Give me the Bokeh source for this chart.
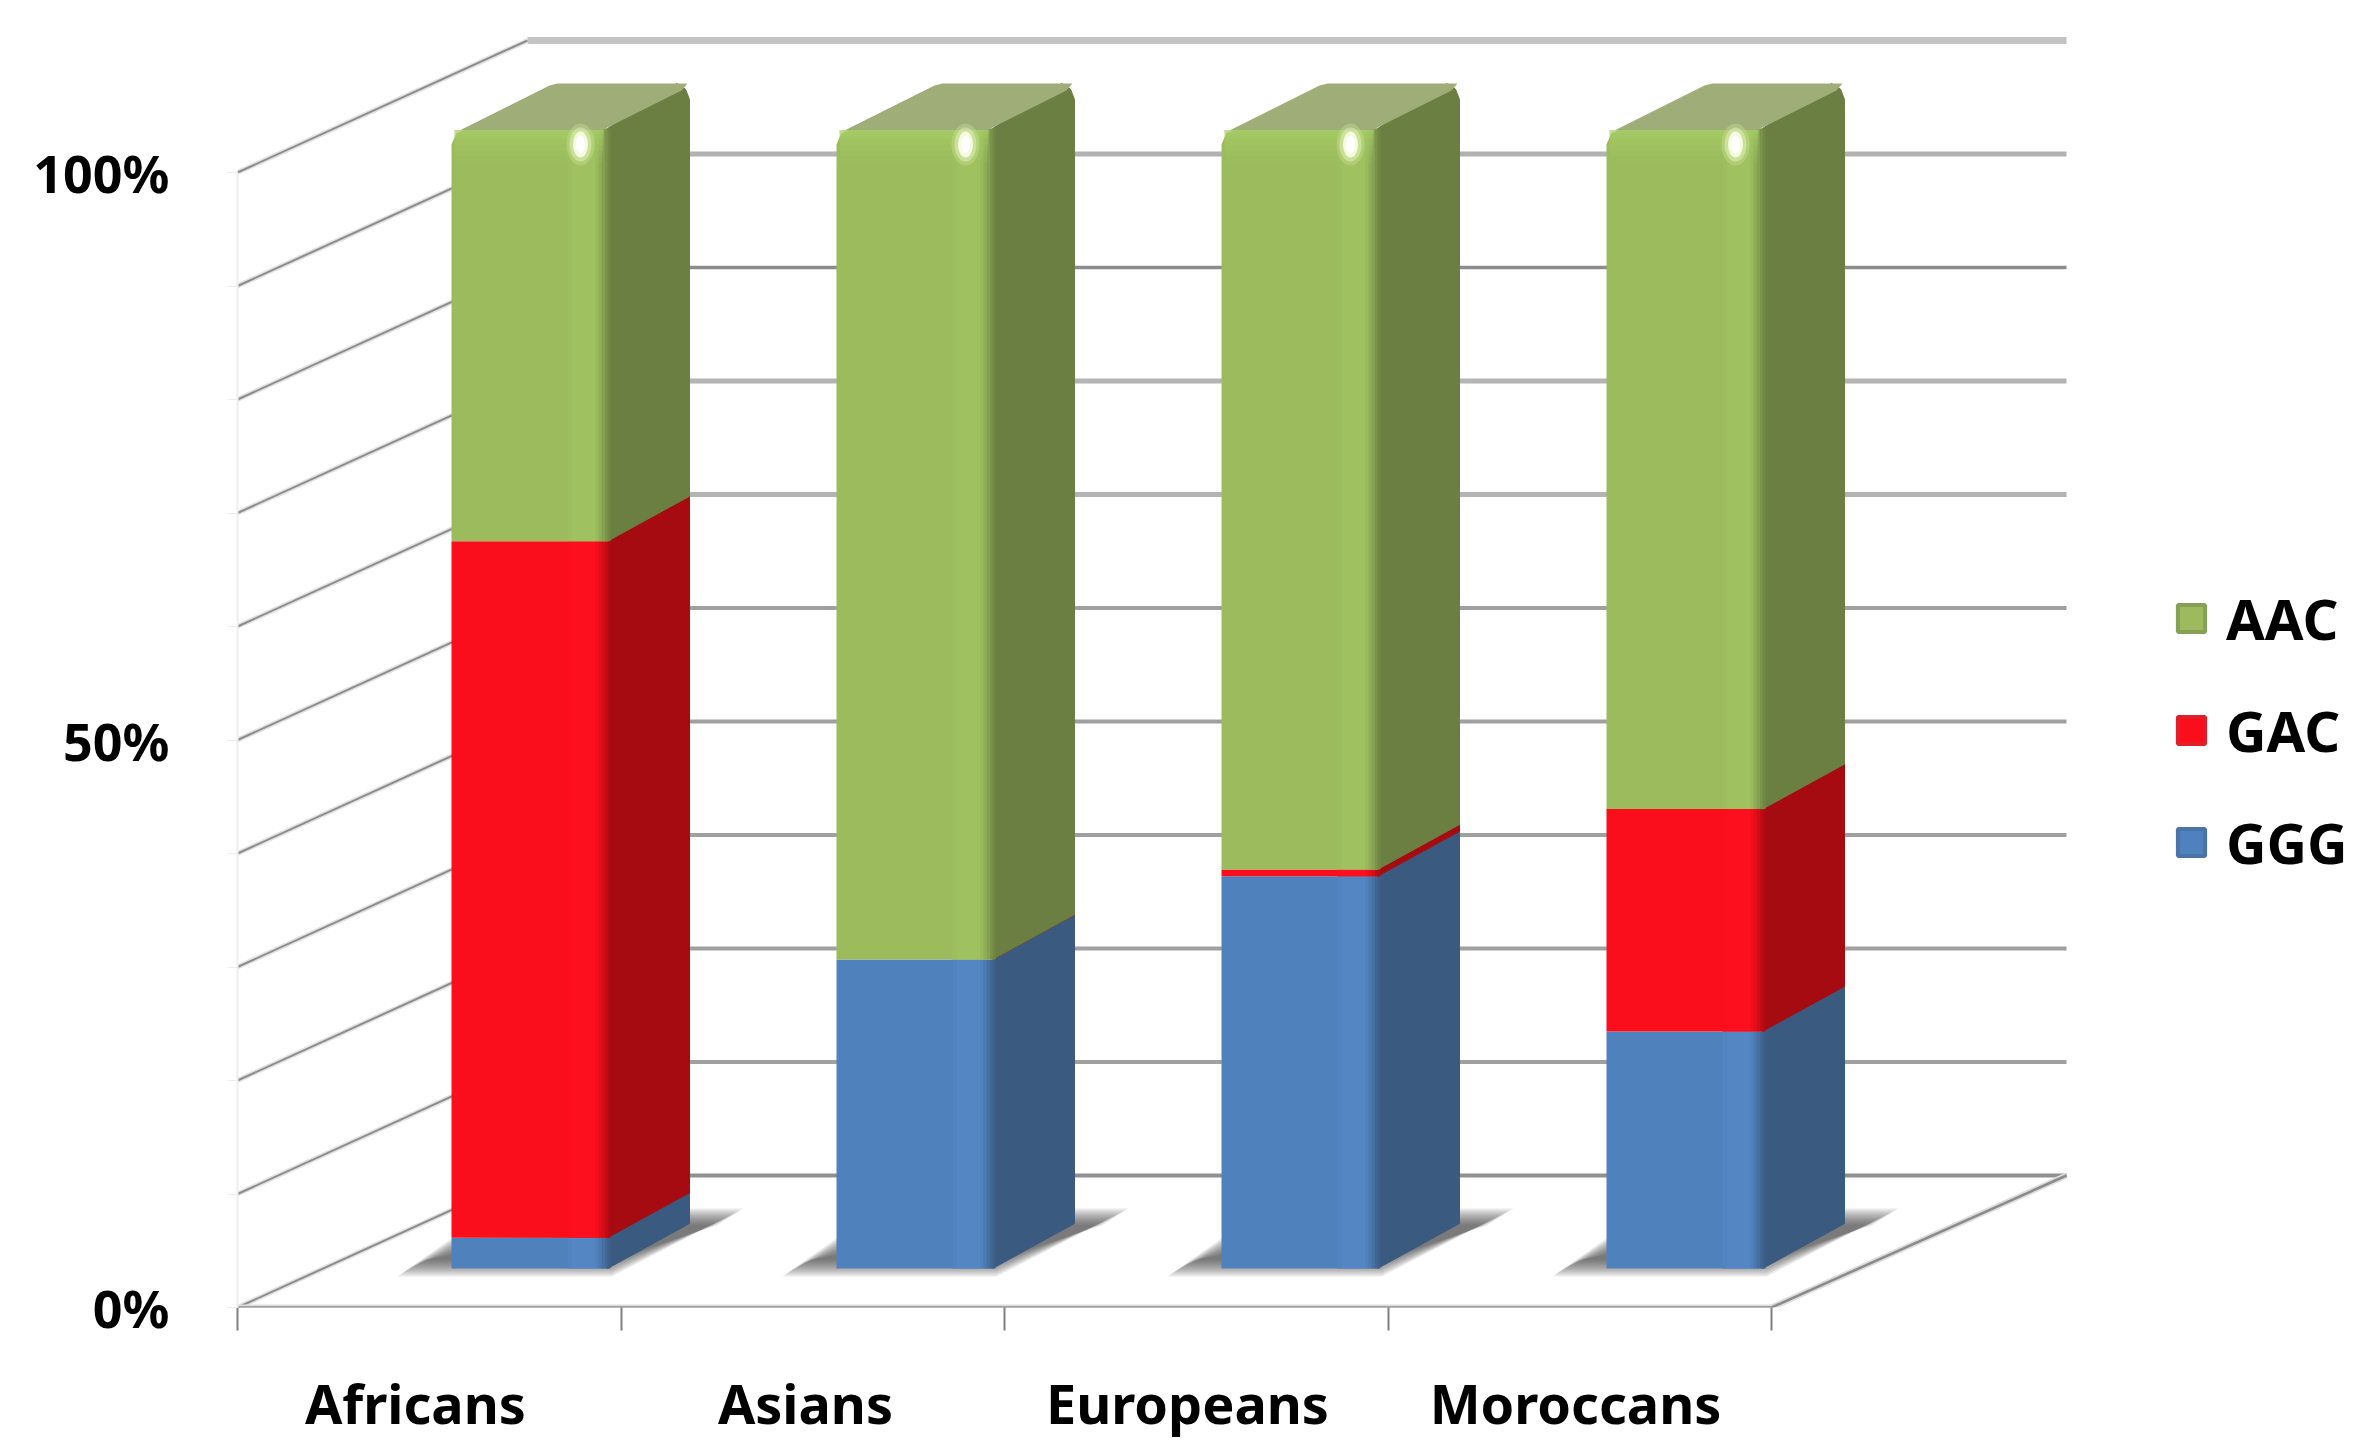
from bokeh.plotting import figure
from bokeh.embed import file_html
from bokeh.resources import INLINE
from bokeh.models import Range1d, LinearAxis, FixedTicker, Legend, LegendItem, ColumnDataSource

CATEGORIES = ["Africans", "Asians", "Europeans", "Moroccans"]
SERIES = ["GGG", "GAC", "AAC"]
GGG = [2.7, 27.1, 34.4, 20.8]
GAC = [61.1, 0.0, 0.6, 19.5]
AAC = [36.2, 72.9, 65.0, 59.7]
Y_TICKS = [0, 50, 100]
Y_LABELS = ["0%", "50%", "100%"]
WALL_STEPS = [0, 10, 20, 30, 40, 50, 60, 70, 80, 90, 100]

FRONT = {"GGG": "#4f81bd", "GAC": "#fb0e1c", "AAC": "#9bbb5c"}
LIGHT = {"GGG": "#5386c2", "GAC": "#fd0f1e", "AAC": "#9fc15f"}
SIDE = {"GGG": "#3a5a80", "GAC": "#a50b10", "AAC": "#6a7f41"}
SWATCH_EDGE = {"GGG": "#4a74a6", "GAC": "#e01f28", "AAC": "#86a055"}
CAP = "#9fae78"
FONT = "Noto Sans"
FS = "54px"
FS_Y = "52px"
FS_LEG = "56px"


def mix(c1, c2, f):
    a = [int(c1[i:i + 2], 16) for i in (1, 3, 5)]
    b = [int(c2[i:i + 2], 16) for i in (1, 3, 5)]
    return "#%02x%02x%02x" % tuple(round(x + (y - x) * f) for x, y in zip(a, b))


PX = 1 / 383.5        # x units per pixel
W_PX = 1 / 11.35      # wall value per pixel
B_PX = 1 / 11.4       # bar value per pixel
FRAME_L, FRAME_B = 237, 1307
W, H = 2350, 1442

p = figure(width=W, height=H, output_backend="svg", toolbar_location=None,
           x_range=Range1d(0, (W - FRAME_L) * PX),
           y_range=Range1d(0, FRAME_B * W_PX),
           min_border_left=FRAME_L, min_border_right=0, min_border_top=0,
           min_border_bottom=H - FRAME_B, x_axis_type=None, y_axis_type=None)
p.xgrid.visible = False
p.ygrid.visible = False
p.outline_line_color = None
p.extra_y_ranges = {"bars": Range1d(-39 * B_PX, 1268 * B_PX)}

# --- walls and floor
WD_X, WD_Y = 290 * PX, 132 * W_PX
WALL_R = (2066 - FRAME_L) * PX
N = len(CATEGORIES)
GRID_STYLE = {100: ("#c4c4c4", 7), 90: ("#b2b2b2", 5), 80: ("#8c8c8c", 3.5), 70: ("#b4b4b4", 5),
              60: ("#b4b4b4", 5), 50: ("#a0a0a0", 4), 40: ("#a0a0a0", 4), 30: ("#a0a0a0", 4),
              20: ("#a0a0a0", 4), 10: ("#a0a0a0", 4), 0: ("#909090", 4)}
for k in WALL_STEPS:
    col, wd = GRID_STYLE[k]
    p.line([WD_X, WALL_R], [k + WD_Y, k + WD_Y], line_color=col, line_width=wd)
    p.line([0, WD_X], [k, k + WD_Y], line_color="#e2e2e2", line_width=5)
    p.line([0, WD_X], [k, k + WD_Y], line_color="#8c8c8c", line_width=2)
for wid, col in ((6, "#dddddd"), (2.5, "#8a8a8a")):
    p.line([N, WALL_R], [0, WD_Y], line_color=col, line_width=wid)
    p.line([0, N], [0, 0], line_color=col, line_width=wid)

# --- bars
BAR_W = 156 * PX
D_X, D_Y = 82 * PX, 45 * B_PX
R_X, R_Y = 16 * PX, 16 * B_PX
lefts = [(214 + i * 385) * PX for i in range(N)]
stack = {"GGG": GGG, "GAC": GAC, "AAC": AAC}

for layer in [16, 14, 12, 10, 8, 6, 4, 2, 0]:
    xs, ys = [], []
    for x0 in lefts:
        s = layer
        xs.append([x0 - (54 - 1.5 * s) * PX, x0 + BAR_W + 4 * PX, x0 + BAR_W + D_X + (54 - 1.5 * s) * PX, x0 + BAR_W + D_X, x0])
        ys.append([(-8 + s) * B_PX, (-8 + s) * B_PX, (60 - s) * B_PX, (60 - s) * B_PX, (30 - s) * B_PX])
    p.patches(xs, ys, y_range_name="bars", fill_color="#383838", fill_alpha=0.11, line_color=None)

# renderers that give the legend its rimmed swatches; they sit wholly behind the bars
swatches = {}
for n in SERIES:
    mid = [x + BAR_W / 2 for x in lefts]
    low = [20.0] * N
    swatches[n] = p.patches([[m, m + 4 * PX, m] for m in mid], [[v, v, v + 4 * B_PX] for v in low],
                            y_range_name="bars", fill_color=FRONT[n], line_color=SWATCH_EDGE[n], line_width=4)

bottoms = [0.0] * N
for name in SERIES:
    vals = stack[name]
    fx, fy, sx, sy = [], [], [], []
    band_l, band_r, band_b, band_t, band_c = [], [], [], [], []
    for i, x0 in enumerate(lefts):
        b, t = bottoms[i], bottoms[i] + vals[i]
        xr = x0 + BAR_W
        if name == "AAC":
            fx.append([x0, xr, xr, x0 + R_X, x0 + R_X * .3, x0])
            fy.append([b, b, t, t, t - R_Y * .3, t - R_Y])
            sx.append([xr, xr + D_X, xr + D_X, xr + D_X - R_X * .25, xr + D_X - R_X * .8, xr])
            sy.append([b, b + D_Y, t + D_Y - R_Y, t + D_Y - R_Y * .35, t + D_Y, t])
        else:
            fx.append([x0, xr, xr, x0])
            fy.append([b, b, t, t])
            sx.append([xr, xr + D_X, xr + D_X, xr])
            sy.append([b, b + D_Y, t + D_Y, t])
        grad = [(-40, -36, 0.5), (-36, -12, 1.0)]
        for a, e, f in grad:
            band_l.append(xr + a * PX)
            band_r.append(xr + e * PX)
            band_b.append(b)
            band_t.append(t)
            band_c.append(mix(FRONT[name], LIGHT[name], f))
        for j, f in enumerate([0.12, 0.3, 0.5, 0.7, 0.88]):
            band_l.append(xr + (-12 + j * 3) * PX)
            band_r.append(xr + (-9 + j * 3) * PX)
            band_b.append(b)
            band_t.append(t)
            band_c.append(mix(LIGHT[name], SIDE[name], f))
    bottoms = [bottoms[i] + vals[i] for i in range(N)]
    p.patches(sx, sy, y_range_name="bars", fill_color=SIDE[name], line_color=SIDE[name], line_width=1)
    p.patches(fx, fy, y_range_name="bars", fill_color=FRONT[name], line_color=None)
    band_src = ColumnDataSource(dict(left=band_l, right=band_r, bottom=band_b, top=band_t, color=band_c))
    p.quad(left="left", right="right", bottom="bottom", top="top", source=band_src, y_range_name="bars",
           fill_color="color", line_color=None)

# caps, top sheen and highlight
tops = bottoms
cx, cy = [], []
for i, x0 in enumerate(lefts):
    xr, t = x0 + BAR_W, tops[i]
    cx.append([x0 + 8 * PX, xr - 6 * PX, xr + D_X - 8 * PX, xr + D_X - 2 * PX, x0 + D_X + 24 * PX, x0 + D_X + 16 * PX])
    cy.append([t - 2 * B_PX, t - 2 * B_PX, t + D_Y - 7 * B_PX, t + D_Y, t + D_Y, t + D_Y - 2 * B_PX])
p.patches(cx, cy, y_range_name="bars", fill_color=CAP, line_color=None)
for depth, alpha in ((34, 0.1), (28, 0.12), (22, 0.15), (16, 0.2), (10, 0.25), (5, 0.3)):
    p.quad(left=[x + 3 * PX for x in lefts], right=[x + BAR_W - 4 * PX for x in lefts],
           bottom=[t - depth * B_PX for t in tops], top=[t - 1.5 * B_PX for t in tops], y_range_name="bars",
           fill_color="#aad06a", fill_alpha=alpha, line_color=None)
for w_, h_, col, alpha in ((28, 42, "#cfe59a", 0.35), (22, 34, "#e6f2bf", 0.5), (15, 26, "#fbfde9", 0.9), (9, 18, "#ffffff", 1.0)):
    p.ellipse(x=[x + BAR_W - 27 * PX for x in lefts], y=[t - 16 * B_PX for t in tops], width=w_, height=h_,
              width_units="screen", height_units="screen", y_range_name="bars",
              fill_color=col, fill_alpha=alpha, line_color=None)

# --- axes
xaxis = LinearAxis()
label_pos = [0.464, 1.481, 2.477, 3.489]
xaxis.ticker = FixedTicker(ticks=label_pos, minor_ticks=[0, 1, 2, 3, 4])
xaxis.major_label_overrides = dict(zip(label_pos, CATEGORIES))
xaxis.axis_line_color = None
xaxis.major_tick_line_color = None
xaxis.major_tick_in = 0
xaxis.major_tick_out = 0
xaxis.minor_tick_in = 0
xaxis.minor_tick_out = 23
xaxis.minor_tick_line_color = "#808080"
xaxis.minor_tick_line_width = 2
xaxis.major_label_standoff = 35
xaxis.major_label_text_line_height = 0.9
xaxis.major_label_text_font = FONT
xaxis.major_label_text_font_style = "bold"
xaxis.major_label_text_font_size = FS
xaxis.major_label_text_color = "#000000"
p.add_layout(xaxis, "below")

yaxis = LinearAxis()
yaxis.bounds = (0, 100)
yaxis.ticker = FixedTicker(ticks=Y_TICKS, minor_ticks=WALL_STEPS)
yaxis.major_label_overrides = dict(zip(Y_TICKS, Y_LABELS))
yaxis.axis_line_color = "#eeeeee"
yaxis.axis_line_width = 2
yaxis.major_tick_line_color = "#eeeeee"
yaxis.minor_tick_line_color = "#eeeeee"
yaxis.major_tick_in = 0
yaxis.minor_tick_in = 0
yaxis.major_tick_out = 10
yaxis.minor_tick_out = 10
yaxis.major_label_standoff = 58
yaxis.major_label_text_font = FONT
yaxis.major_label_text_font_style = "bold"
yaxis.major_label_text_font_size = FS_Y
yaxis.major_label_text_color = "#000000"
p.add_layout(yaxis, "left")

# --- legend
items = [LegendItem(label=n, renderers=[swatches[n]]) for n in reversed(SERIES)]
legend = Legend(items=items, location=(2174 - FRAME_L, FRAME_B - 880), orientation="vertical",
                border_line_color=None, background_fill_alpha=0, margin=0, padding=0,
                glyph_width=34, glyph_height=34, label_standoff=18, spacing=36,
                label_text_font=FONT, label_text_font_style="bold", label_text_font_size=FS_LEG,
                label_text_color="#000000", label_height=36)
p.add_layout(legend, "center")

open("out.html", "w").write(file_html(p, INLINE))
